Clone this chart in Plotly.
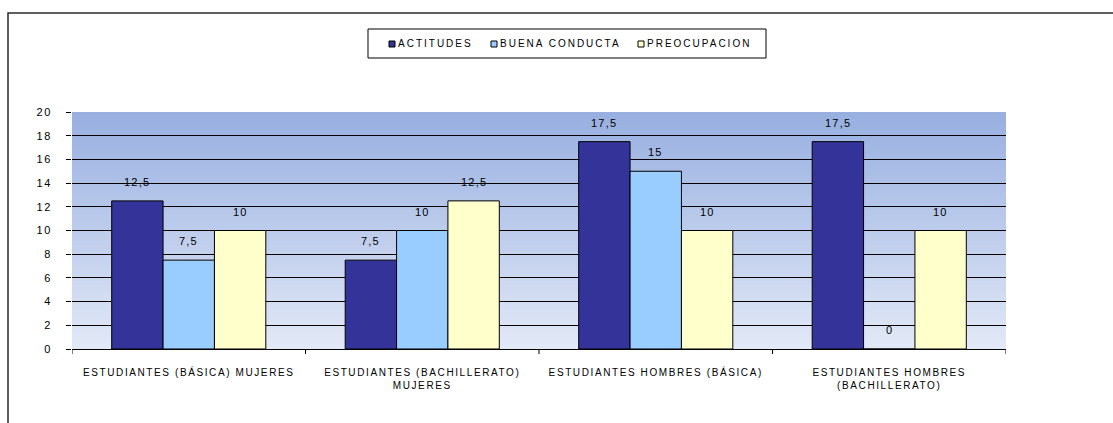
import plotly.graph_objects as go

# ---- data ----
categories = [
    "ESTUDIANTES (BÁSICA) MUJERES",
    "ESTUDIANTES (BACHILLERATO)<br>MUJERES",
    "ESTUDIANTES HOMBRES (BÁSICA)",
    "ESTUDIANTES HOMBRES<br>(BACHILLERATO)",
]
series_names = ["ACTITUDES", "BUENA CONDUCTA", "PREOCUPACION"]
actitudes = [12.5, 7.5, 17.5, 17.5]
buena_conducta = [7.5, 10, 15, 0]
preocupacion = [10, 12.5, 10, 10]
y_ticks = [0, 2, 4, 6, 8, 10, 12, 14, 16, 18, 20]

series_values = [actitudes, buena_conducta, preocupacion]
series_colors = ["#333399", "#99CCFF", "#FFFFCC"]

# ---- layout geometry (pixels) ----
FIG_W, FIG_H = 1113, 423
L, R, T, B = 72, 1006, 112, 349
PW, PH = R - L, B - T
BARGAP = 0.34
FONT = "Arial, Liberation Sans, sans-serif"


def px_x(p):
    return (p - L) / PW


def px_y(p):
    return (B - p) / PH


def spaced(text, sp):
    return f'<span style="letter-spacing:{sp}px">{text}</span>'


def fmt(v):
    return f"{v:g}".replace(".", ",")


fig = go.Figure()

for name, vals, col in zip(series_names, series_values, series_colors):
    fig.add_trace(go.Bar(
        name=name,
        x=list(range(len(categories))),
        y=vals,
        marker=dict(color=col, line=dict(color="#000000", width=1)),
        showlegend=False,
        hoverinfo="x+y",
    ))

# value labels above each bar
n = len(series_names)
bw = (1 - BARGAP) / n
annotations = []
for k, vals in enumerate(series_values):
    off = (k - (n - 1) / 2) * bw
    for i, v in enumerate(vals):
        annotations.append(dict(
            x=i + off, y=v, xref="x", yref="y",
            text=spaced(fmt(v), 1.2), showarrow=False,
            yanchor="middle", yshift=19,
            font=dict(family=FONT, size=11, color="#000000"),
        ))

shapes = []
# vertical blue gradient behind the plot area (strips overlap slightly to avoid seams)
steps = 100
top_c = (152, 175, 224)
bot_c = (226, 233, 247)
for s in range(steps):
    f = s / (steps - 1)
    c = tuple(round(bot_c[j] + (top_c[j] - bot_c[j]) * f) for j in range(3))
    shapes.append(dict(
        type="rect", xref="paper", yref="paper",
        x0=0, x1=1, y0=s / steps, y1=min(1.0, (s + 1) / steps + 0.008),
        fillcolor=f"rgb{c}", line=dict(width=0), layer="below",
    ))

# outer chart frame
shapes.append(dict(
    type="rect", xref="paper", yref="paper",
    x0=px_x(8), x1=px_x(1125), y0=px_y(440), y1=px_y(13),
    line=dict(color="#2b2b2b", width=1.5), fillcolor="rgba(0,0,0,0)",
    layer="above",
))

# legend box
shapes.append(dict(
    type="rect", xref="paper", yref="paper",
    x0=px_x(368), x1=px_x(766), y0=px_y(58), y1=px_y(29),
    line=dict(color="#000000", width=1), fillcolor="#FFFFFF",
))
legend_starts = [389, 491, 638]
legend_cy = 44
for name, col, x0 in zip(series_names, series_colors, legend_starts):
    shapes.append(dict(
        type="rect", xref="paper", yref="paper",
        x0=px_x(x0), x1=px_x(x0 + 6), y0=px_y(legend_cy + 3), y1=px_y(legend_cy - 3),
        line=dict(color="#000000", width=1), fillcolor=col,
    ))
    annotations.append(dict(
        x=px_x(x0 + 7), y=px_y(legend_cy), xref="paper", yref="paper",
        xanchor="left", yanchor="middle", showarrow=False,
        text=spaced(name, 2.0),
        font=dict(family=FONT, size=10, color="#000000"),
    ))

fig.update_layout(
    width=FIG_W, height=FIG_H,
    margin=dict(l=L, r=FIG_W - R, t=T, b=FIG_H - B, pad=0),
    paper_bgcolor="#FFFFFF",
    plot_bgcolor="rgba(0,0,0,0)",
    barmode="group", bargap=BARGAP, bargroupgap=0,
    separators=",.",
    showlegend=False,
    shapes=shapes,
    annotations=annotations,
    font=dict(family=FONT, size=10, color="#000000"),
)

fig.update_xaxes(
    range=[-0.5, len(categories) - 0.5],
    tickvals=list(range(len(categories))),
    ticktext=[spaced(c, 1.6) for c in categories],
    showgrid=False, zeroline=False,
    showline=True, linecolor="#000000", linewidth=1,
    ticks="", ticklabelstandoff=14,
    tickfont=dict(family=FONT, size=10, color="#000000"),
)
# boundary tick marks between categories
for b in [i - 0.5 for i in range(len(categories) + 1)]:
    fig.add_shape(type="line", xref="x", yref="paper",
                  x0=b, x1=b, y0=0, y1=px_y(B + 5),
                  line=dict(color="#000000", width=1))

fig.update_yaxes(
    range=[0, 20],
    tickvals=y_ticks,
    ticktext=[spaced(str(v), 1.5) for v in y_ticks],
    showgrid=True, gridcolor="#000000", gridwidth=1,
    zeroline=False, showline=False,
    ticks="outside", ticklen=5, tickcolor="#000000",
    ticklabelstandoff=12,
    tickfont=dict(family=FONT, size=11, color="#000000"),
)

fig.write_html("out.html")
